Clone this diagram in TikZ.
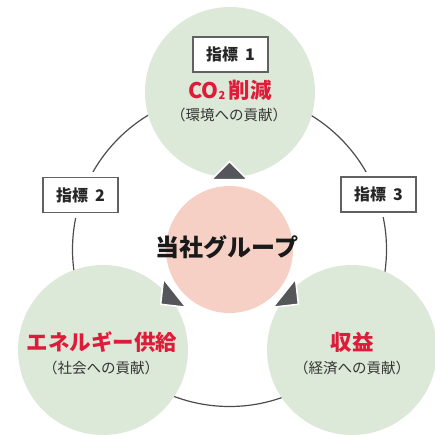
\documentclass[tikz,border=0pt]{standalone}
\usepackage{fontspec}
\newfontfamily\jpfont{Noto Sans CJK JP}
\usetikzlibrary{calc}
\definecolor{leafgreen}{RGB}{221,233,216}
\definecolor{salmonpink}{RGB}{246,208,197}
\definecolor{crimsonred}{RGB}{222,28,58}
\definecolor{wedgegray}{RGB}{85,86,90}
\definecolor{textgray}{RGB}{51,51,51}
\tikzset{
  greenball/.style={circle, fill=leafgreen, minimum size=170pt, inner sep=0pt},
  pinkball/.style={circle, fill=salmonpink, minimum size=127pt, inner sep=0pt},
  idxbox/.style={draw=black!62, line width=1.3pt, fill=white, minimum width=75pt,
    minimum height=35pt, inner sep=0pt, text=black!85,
    font=\jpfont\bfseries\fontsize{16}{16}\selectfont},
  gapbox/.style={idxbox, preaction={draw=white, line width=10pt}},
  headline/.style={font=\jpfont\bfseries\fontsize{21.5}{21.5}\selectfont, text=crimsonred, inner sep=0pt},
  subline/.style={font=\jpfont\fontsize{14.5}{14.5}\selectfont, text=textgray, inner sep=0pt},
  wedge/.style={fill=wedgegray, draw=white, line width=1.5pt, line join=miter},
  ringline/.style={draw=black!70, line width=1.2pt}
}
\newcommand{\smallsub}[1]{\raisebox{-1pt}{\fontsize{11}{11}\selectfont #1}}
\begin{document}
\begin{tikzpicture}[x=1pt, y=1pt]
    \useasboundingbox (0,0) rectangle (435,434);
    \coordinate (hub) at (229.5,184.5);
    \draw[ringline] (hub) circle (157);
    % three circles of contribution
    \node[greenball] (env) at (230,342) {};
    \node[greenball] (soc) at (103,84) {};
    \node[greenball] (eco) at (352,84) {};
    \node[pinkball] (grp) at (hub) {};
    % arrowheads pointing outward
    \foreach \ang in {90,218.5,321.5} {
        \draw[wedge] ($(hub)+(\ang:88)$) -- ($(hub)+(\ang:70)+(\ang+90:18)$)
            -- ($(hub)+(\ang:70)+(\ang-90:18)$) -- cycle;
    }
    \node[idxbox] (idx1) at (230.5,379.5) {指標\hspace{0.45em}1};
    \node[gapbox] (idx2) at (80.5,239) {指標\hspace{0.45em}2};
    \node[gapbox] (idx3) at (378.5,239.5) {指標\hspace{0.45em}3};
    \node[headline] (co2) at (230,344) {CO\smallsub{2}\,削減};
    \node[subline] (envsub) at (229,319) {（環境への貢献）};
    \node[font=\jpfont\bfseries\fontsize{24}{24}\selectfont, text=black!90] (grpname) at (227,187) {当社グループ};
    \node[headline] (energy) at (102,92) {エネルギー供給};
    \node[subline] (socsub) at (101,66) {（社会への貢献）};
    \node[headline] (profit) at (352,92) {収益};
    \node[subline] (ecosub) at (352,66) {（経済への貢献）};
\end{tikzpicture}
\end{document}
